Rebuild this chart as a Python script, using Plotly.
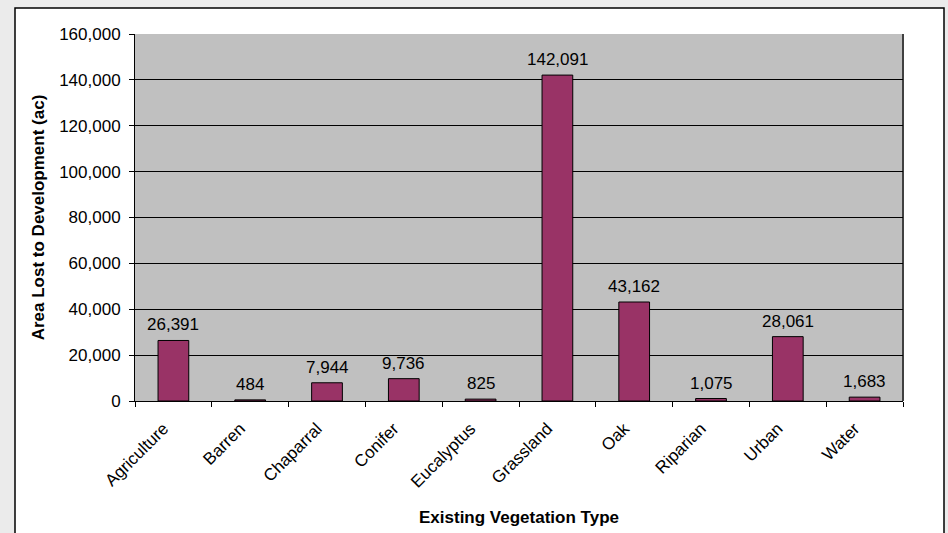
import plotly.graph_objects as go

# Acres of each existing vegetation type lost to development
veg_types = ["Agriculture", "Barren", "Chaparral", "Conifer", "Eucalyptus",
             "Grassland", "Oak", "Riparian", "Urban", "Water"]
acres_lost = [26391, 484, 7944, 9736, 825, 142091, 43162, 1075, 28061, 1683]

y_ticks = [0, 20000, 40000, 60000, 80000, 100000, 120000, 140000, 160000]
y_tick_text = [f"{v:,}" for v in y_ticks]

W, H = 948, 533
L, R, T, B = 135, 45, 34, 132
pw, ph = W - L - R, H - T - B

def px_x(x):
    return (x - L) / pw

def px_y(y):
    return (H - B - y) / ph

font = "Liberation Sans, Arial, sans-serif"

fig = go.Figure(go.Bar(
    x=veg_types,
    y=acres_lost,
    width=0.4,
    marker=dict(color="#993366", line=dict(color="black", width=1)),
    cliponaxis=False,
))

# value labels above each bar
for cat, val in zip(veg_types, acres_lost):
    fig.add_annotation(
        x=cat, y=val, text=f"{val:,}", showarrow=False,
        xanchor="center", yanchor="bottom", yshift=4,
        font=dict(family=font, size=17, color="black"),
    )

fig.update_layout(
    width=W, height=H,
    margin=dict(l=L, r=R, t=T, b=B, autoexpand=False),
    paper_bgcolor="#ebebeb",
    plot_bgcolor="rgba(0,0,0,0)",
    showlegend=False,
    font=dict(family=font, color="black"),
    shapes=[
        # white chart frame
        dict(type="rect", xref="paper", yref="paper",
             x0=px_x(15), x1=px_x(944), y0=px_y(545), y1=px_y(8),
             fillcolor="white", line=dict(color="black", width=1.5), layer="below"),
        # grey plotting area
        dict(type="rect", xref="paper", yref="paper",
             x0=0, x1=1, y0=0, y1=1,
             fillcolor="#c0c0c0", line=dict(width=0), layer="below"),
        # right edge of the plotting area
        dict(type="line", xref="paper", yref="paper",
             x0=1, x1=1, y0=0, y1=1,
             line=dict(color="#404040", width=2), layer="below"),
    ],
    xaxis=dict(
        tickson="boundaries",
        ticks="outside", ticklen=5, tickcolor="black", tickwidth=1,
        tickangle=-45,
        ticklabelstandoff=10,
        ticklabelshift=-10,
        tickfont=dict(family=font, size=17, color="black"),
        showline=True, linecolor="black", linewidth=1,
        showgrid=False,
        title=dict(text="<b>Existing Vegetation Type</b>",
                   font=dict(family=font, size=17, color="black"), standoff=20),
        automargin=False,
    ),
    yaxis=dict(
        range=[0, 160000],
        tickvals=y_ticks, ticktext=y_tick_text,
        ticks="outside", ticklen=5, tickcolor="black", tickwidth=1,
        ticklabelstandoff=5,
        tickfont=dict(family=font, size=17, color="black"),
        showline=True, linecolor="black", linewidth=1,
        showgrid=True, gridcolor="black", gridwidth=1,
        zeroline=False,
        title=dict(text="<b>Area Lost to Development (ac)</b>",
                   font=dict(family=font, size=17, color="black"), standoff=10),
        automargin=False,
    ),
)

fig.write_html("out.html")
